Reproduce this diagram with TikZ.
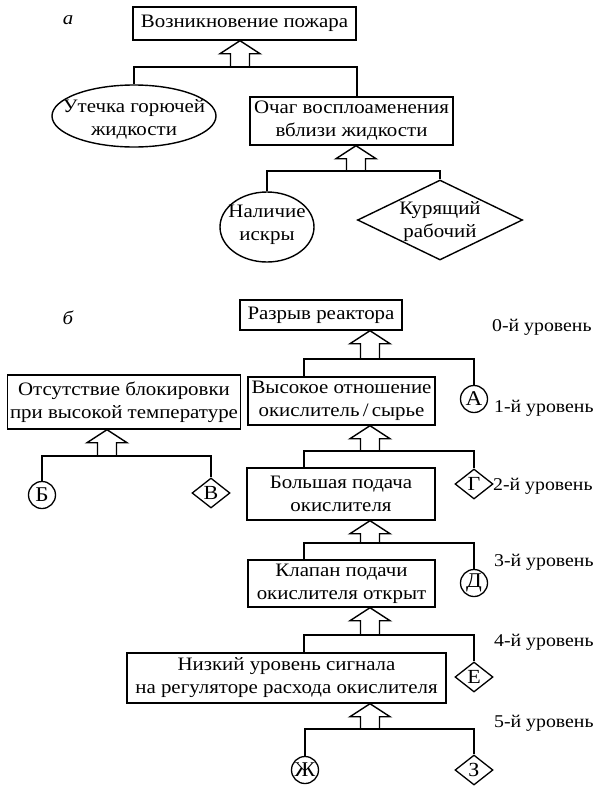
\documentclass[tikz,border=0pt]{standalone}
\usepackage{fontspec}
\setmainfont{Liberation Serif}[FakeStretch=1.1]
\usetikzlibrary{shapes.geometric,calc}
\newcommand\harrow[2]{%
  \draw[hollow] ($(#1)+(-9.5,0)$) |- ($(#1 |- #2.south)+(-20,13)$) -- (#1 |- #2.south)
    -- ($(#1 |- #2.south)+(20,13)$) -| ($(#1)+(9.5,0)$);}
\begin{document}
\begin{tikzpicture}[x=1pt,y=-1pt,
  every node/.style={font=\fontsize{19}{23}\selectfont, inner sep=0pt, align=center},
  box/.style={draw, line width=1.4pt, rectangle},
  oval/.style={draw, line width=1.4pt, ellipse},
  rhomb/.style={draw, line width=1.4pt, diamond},
  circ/.style={draw, line width=1.3pt, circle, minimum size=27pt, font=\fontsize{21}{22}\selectfont},
  smalld/.style={draw, line width=1.3pt, diamond, minimum width=38pt, minimum height=30pt, font=\fontsize{20}{22}\selectfont},
  link/.style={line width=1.4pt},
  hollow/.style={line width=1.4pt, line join=miter},
  lvl/.style={anchor=west, font=\fontsize{18}{22}\selectfont}
]
\useasboundingbox (0,0) rectangle (600,796);

% ---------- part a ----------
\node (la) at (68,20) {\itshape а};
\node[box, minimum width=223, minimum height=33] (n1) at (244.5,23.5) {Возникновение пожара};
\node[oval, minimum width=164, minimum height=62] (e1) at (134,116) {};
\node (e1t) at ($(e1)+(0,3)$) {Утечка горючей\\жидкости};
\node[box, minimum width=203, minimum height=48] (n2) at (351.5,121) {Очаг восплоаменения\\вблизи жидкости};
\node[oval, minimum width=94, minimum height=70] (e2) at (267,227) {};
\node (e2t) at ($(e2)+(0,-2)$) {Наличие\\искры};
\node[rhomb, minimum width=165, minimum height=80] (d1) at (440,220) {};
\node (d1t) at ($(d1)+(0,2)$) {Курящий\\рабочий};

\coordinate (ja1) at (240,67);
\coordinate (ba1l) at (134,67);
\coordinate (ba1r) at (357,67);
\draw[link] (e1.north) -- (ba1l) -- (ba1r) -- (ba1r |- n2.north);
\harrow{ja1}{n1}

\coordinate (ja2) at (356,171);
\coordinate (ba2l) at (267,171);
\coordinate (ba2r) at (440,171);
\draw[link] (e2.north) -- (ba2l) -- (ba2r) -- (d1.north);
\harrow{ja2}{n2}

% ---------- part b ----------
\node (lb) at (68,318) {\itshape б};
\node[box, minimum width=162, minimum height=30] (r0) at (321,315) {Разрыв реактора};
\node[box, minimum width=187, minimum height=48] (v1) at (341.5,401) {Высокое отношение\\окислитель\,/\,сырье};
\node[circ] (ca) at (474,399) {А};
\node[box, minimum width=188, minimum height=52] (b2) at (341,494) {Большая подача\\окислителя};
\node[smalld] (dg) at (474,484) {Г};
\node[box, minimum width=187, minimum height=47] (k3) at (341.5,583.5) {Клапан подачи\\окислителя открыт};
\node[circ] (cd) at (474,583) {Д};
\node[box, minimum width=319, minimum height=50] (n4) at (286.5,678) {Низкий уровень сигнала\\на регуляторе расхода окислителя};
\node[smalld] (de) at (474,677) {Е};
\node[circ] (cz) at (305,770) {Ж};
\node[smalld] (dz) at (474,770) {З};

\node[box, minimum width=233, minimum height=54] (lft) at (124,402) {Отсутствие блокировки\\при высокой температуре};
\node[circ] (cb) at (42,495) {Б};
\node[smalld] (dv) at (211,493) {В};

\node[lvl] (l0) at (492,327) {0-й уровень};
\node[lvl] (l1) at (494,408) {1-й уровень};
\node[lvl] (l2) at (493,486) {2-й уровень};
\node[lvl] (l3) at (494,562) {3-й уровень};
\node[lvl] (l4) at (494,642) {4-й уровень};
\node[lvl] (l5) at (494,723) {5-й уровень};

\coordinate (jb0) at (370,359);
\coordinate (bb0l) at (304,359);
\coordinate (bb0r) at (474,359);
\draw[link] (bb0l |- v1.north) -- (bb0l) -- (bb0r) -- (ca.north);
\harrow{jb0}{r0}

\coordinate (jb1) at (370,451);
\coordinate (bb1l) at (304,451);
\coordinate (bb1r) at (474,451);
\draw[link] (bb1l |- b2.north) -- (bb1l) -- (bb1r) -- (dg.north);
\harrow{jb1}{v1}

\coordinate (jb2) at (370,543);
\coordinate (bb2l) at (304,543);
\coordinate (bb2r) at (474,543);
\draw[link] (bb2l |- k3.north) -- (bb2l) -- (bb2r) -- (cd.north);
\harrow{jb2}{b2}

\coordinate (jb3) at (370,635);
\coordinate (bb3l) at (304,635);
\coordinate (bb3r) at (474,635);
\draw[link] (bb3l |- n4.north) -- (bb3l) -- (bb3r) -- (de.north);
\harrow{jb3}{k3}

\coordinate (jb4) at (370,729);
\coordinate (bb4l) at (305,729);
\coordinate (bb4r) at (474,729);
\draw[link] (cz.north) -- (bb4l) -- (bb4r) -- (dz.north);
\harrow{jb4}{n4}

\coordinate (jl) at (107,456);
\coordinate (bll) at (42,456);
\coordinate (blr) at (211,456);
\draw[link] (cb.north) -- (bll) -- (blr) -- (dv.north);
\harrow{jl}{lft}
\end{tikzpicture}
\end{document}
